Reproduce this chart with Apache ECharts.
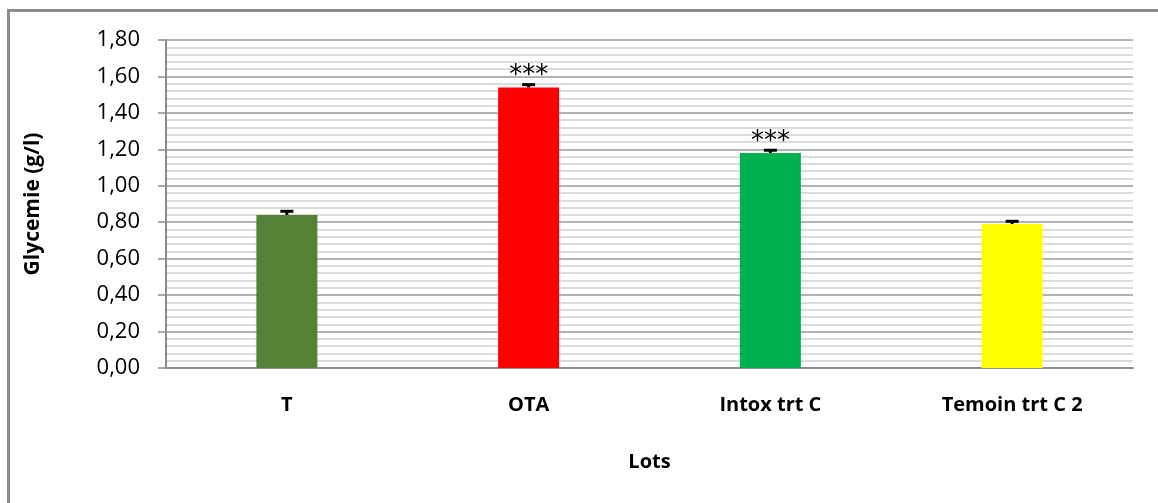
<!DOCTYPE html>
<html>
<head>
<meta charset="utf-8">
<script src="https://cdn.jsdelivr.net/npm/echarts@6/dist/echarts.min.js"></script>
<style>
  html, body { margin: 0; padding: 0; background: #ffffff; }
  #chart { width: 1158px; height: 503px; }
</style>
</head>
<body>
<div id="chart"></div>
<script>
// Glycemie per lot, with standard error and significance marks
const categories = ['T', 'OTA', 'Intox trt C', 'Temoin trt C 2'];
const glycemie = [0.84, 1.54, 1.18, 0.79];
const erreur = [0.02, 0.015, 0.015, 0.015];
const signif = ['', '***', '***', ''];
const barColors = ['#538135', '#ff0000', '#00b050', '#ffff00'];
const yTicks = [0, 0.2, 0.4, 0.6, 0.8, 1.0, 1.2, 1.4, 1.6, 1.8];

const labelFont = '"Open Sans", "DejaVu Sans", sans-serif';

const chart = echarts.init(document.getElementById('chart'), null, { renderer: 'canvas' });

chart.setOption({
  backgroundColor: '#ffffff',
  animation: false,
  graphic: [{
    type: 'rect',
    shape: { x: 8.5, y: 10.5, width: 1160, height: 510 },
    style: { fill: 'none', stroke: '#8c8c8c', lineWidth: 3 },
    silent: true
  }],
  grid: { left: 166, right: 25, top: 40, bottom: 135 },
  xAxis: {
    type: 'category',
    data: categories,
    name: 'Lots',
    nameLocation: 'middle',
    nameGap: 84,
    nameTextStyle: { fontFamily: labelFont, fontWeight: 'bold', fontSize: 20, color: '#000' },
    axisLine: { lineStyle: { color: '#8c8c8c', width: 2 } },
    axisTick: { show: false },
    axisLabel: { fontFamily: labelFont, fontWeight: 'bold', fontSize: 20, color: '#000', margin: 27 }
  },
  yAxis: {
    type: 'value',
    min: 0,
    max: 1.8,
    interval: 0.2,
    name: 'Glycemie (g/l)',
    nameLocation: 'middle',
    nameGap: 122,
    nameTextStyle: { fontFamily: labelFont, fontWeight: 'bold', fontSize: 21, color: '#000' },
    axisLine: { show: true, lineStyle: { color: '#8c8c8c', width: 2 } },
    axisTick: { show: true, inside: false, length: 8, lineStyle: { color: '#8c8c8c', width: 1.5 } },
    axisLabel: {
      fontFamily: labelFont, fontSize: 22, color: '#000', margin: 26,
      formatter: v => {
        const t = yTicks.find(x => Math.abs(x - v) < 1e-9);
        return (t === undefined ? v : t).toFixed(2).replace('.', ',');
      }
    },
    splitLine: { show: true, lineStyle: { color: '#9a9a9a', width: 1.5 } },
    minorTick: { show: false, splitNumber: 5 },
    minorSplitLine: { show: true, lineStyle: { color: '#cfcfcf', width: 1.5 } }
  },
  series: [
    {
      type: 'bar',
      data: glycemie.map((v, i) => ({ value: v, itemStyle: { color: barColors[i] } })),
      barWidth: 61,
      z: 2
    },
    {
      type: 'custom',
      z: 5,
      data: glycemie.map((v, i) => [i, v, erreur[i], signif[i]]),
      renderItem: (params, api) => {
        const x = api.coord([api.value(0), 0])[0];
        const top = api.coord([api.value(0), api.value(1)])[1];
        const capY = api.coord([api.value(0), api.value(1) + api.value(2)])[1];
        const children = [
          { type: 'line', shape: { x1: x, y1: top, x2: x, y2: capY },
            style: { stroke: '#000', lineWidth: 3 } },
          { type: 'line', shape: { x1: x - 6.5, y1: capY, x2: x + 6.5, y2: capY },
            style: { stroke: '#000', lineWidth: 3 } }
        ];
        const mark = signif[params.dataIndex];
        if (mark) {
          children.push({
            type: 'text',
            style: {
              x: x, y: capY - 8, text: mark,
              fontFamily: '"DejaVu Sans", sans-serif',
              fontSize: 26, fill: '#000',
              align: 'center', verticalAlign: 'middle'
            }
          });
        }
        return { type: 'group', children };
      }
    }
  ]
});
</script>
</body>
</html>
